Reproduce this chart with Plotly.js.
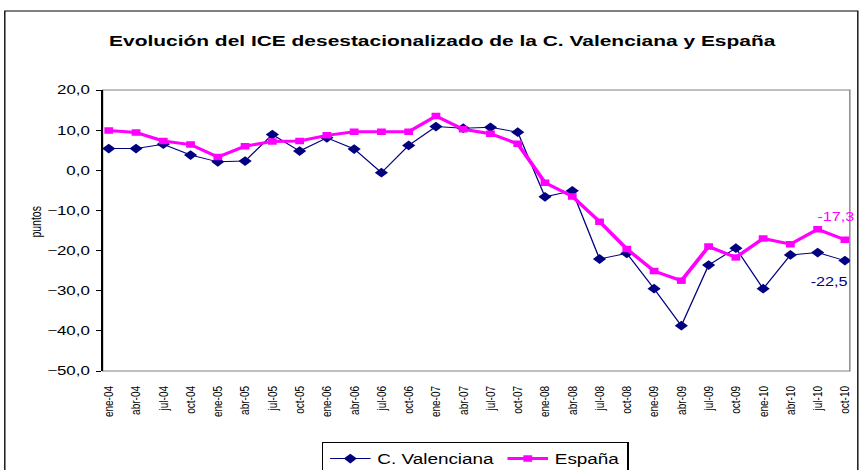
<!DOCTYPE html>
<html><head><meta charset="utf-8">
<script src="https://cdn.plot.ly/plotly-3.0.1.min.js"></script>
<style>
html,body{margin:0;padding:0;background:#fff;overflow:hidden}
#chart{width:638px;height:470px;transform:scaleX(1.3511);transform-origin:0 0}
</style>
</head><body>
<div id="chart"></div>
<script>
const categories = ["ene-04","abr-04","jul-04","oct-04","ene-05","abr-05","jul-05","oct-05",
  "ene-06","abr-06","jul-06","oct-06","ene-07","abr-07","jul-07","oct-07",
  "ene-08","abr-08","jul-08","oct-08","ene-09","abr-09","jul-09","oct-09",
  "ene-10","abr-10","jul-10","oct-10"];
const valenciana = [5.4,5.4,6.5,3.8,2.1,2.3,8.9,4.8,8.1,5.3,-0.6,6.2,10.9,10.5,10.7,9.5,
  -6.6,-5.1,-22.1,-20.7,-29.5,-38.7,-23.6,-19.4,-29.5,-21.1,-20.5,-22.5];
const espana = [9.9,9.4,7.3,6.4,3.3,6.0,7.2,7.3,8.7,9.6,9.6,9.6,13.5,10.2,9.1,6.6,
  -3.1,-6.5,-12.8,-19.6,-25.1,-27.5,-19.0,-21.7,-17.0,-18.4,-14.7,-17.3];
const seriesNames = ["C. Valenciana","España"];
const titleText = "Evolución del ICE desestacionalizado de la C. Valenciana y España";
const yTitle = "puntos";

const NAVY = "#000080", MAG = "#FF00FF";
const FONT = "'Liberation Sans',Arial,sans-serif";
const last = categories.length - 1;
const fmt = v => v.toFixed(1).replace(".", ",");

const traces = [
  {x: categories, y: valenciana, name: seriesNames[0], type: "scatter", mode: "lines+markers",
   line: {color: NAVY, width: 1}, marker: {symbol: "diamond", size: 7.5, color: NAVY}},
  {x: categories, y: espana, name: seriesNames[1], type: "scatter", mode: "lines+markers",
   line: {color: MAG, width: 3}, marker: {symbol: "square", size: 6.5, color: MAG}}
];

const layout = {
  width: 638, height: 470,
  margin: {l: 76, r: 9, t: 90, b: 99, autoexpand: false},
  paper_bgcolor: "#fff", plot_bgcolor: "#fff",
  separators: ",.",
  font: {family: FONT, size: 12, color: "#000"},
  title: {text: "<b>" + titleText + "</b>", font: {family: FONT, size: 15.5, color: "#000"},
          x: 0.513, xref: "container", xanchor: "center", y: 1 - 41/470, yref: "container", yanchor: "middle"},
  showlegend: true,
  legend: {orientation: "h", x: 0.4987, xanchor: "center", y: -(442-371)/281, yanchor: "top",
           bordercolor: "#000", borderwidth: 1, font: {family: FONT, size: 14, color: "#000"},
           tracegroupgap: 0},
  xaxis: {type: "category", categoryorder: "array", categoryarray: categories,
          range: [-0.223, 27.18], showline: false, ticks: "outside", ticklen: 10,
          tickcolor: "rgba(0,0,0,0)", showgrid: false, zeroline: false,
          tickangle: -90, tickfont: {family: FONT, size: 10}},
  xaxis2: {type: "category", matches: "x", overlaying: "x", anchor: "free", position: 50/70,
           showline: true, linecolor: "#000", linewidth: 1, ticks: "outside", ticklen: 4,
           tickcolor: "#000", showticklabels: false, showgrid: false, zeroline: false},
  yaxis: {range: [-50, 20], dtick: 10, tick0: 0, tickformat: ".1f", showline: true,
          linecolor: "#000", linewidth: 1, ticks: "outside", ticklen: 4, tickcolor: "#000",
          ticklabelstandoff: 2,
          showgrid: false, zeroline: false, tickfont: {family: FONT, size: 12.5}},
  shapes: [
    {type: "rect", xref: "paper", yref: "paper", x0: 0, x1: 1, y0: 0, y1: 1,
     line: {color: "#808080", width: 1}, layer: "below"},
    {type: "rect", xref: "paper", yref: "paper", x0: -0.131, x1: 1.0107, y0: -0.5, y1: (371-11)/281,
     line: {color: "#000", width: 1}}
  ],
  annotations: [
    {xref: "paper", yref: "paper", x: -0.0893, y: (371-222)/281, text: yTitle, textangle: -90,
     showarrow: false, xanchor: "center", yanchor: "middle",
     font: {family: FONT, size: 10.5, color: "#000"}},
    {x: categories[last], y: espana[last], text: fmt(espana[last]), showarrow: false,
     xanchor: "center", yanchor: "middle", xshift: -6.7, yshift: 23,
     font: {family: FONT, size: 12, color: MAG}},
    {x: categories[last], y: valenciana[last], text: fmt(valenciana[last]), showarrow: false,
     xanchor: "center", yanchor: "middle", xshift: -11.8, yshift: -21,
     font: {family: FONT, size: 12, color: NAVY}}
  ]
};

Plotly.newPlot("chart", traces, layout, {displayModeBar: false, staticPlot: true});
</script>
</body></html>
